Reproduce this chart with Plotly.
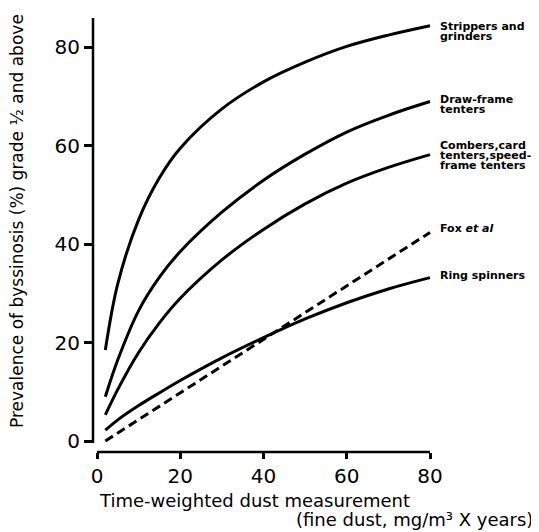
import plotly.graph_objects as go

# ---- data ----
x_pts = [2, 5, 10, 15, 20, 30, 40, 50, 60, 70, 80]
strippers = [18.5, 32, 45, 53.5, 59.5, 67.5, 73, 77, 80.2, 82.5, 84.4]
draw_frame = [9, 16.5, 26.5, 33.3, 38.5, 46.5, 53, 58.3, 62.8, 66.2, 69]
combers = [5.3, 10.5, 18, 24, 29, 36.8, 43, 48.2, 52.4, 55.6, 58.2]
ring = [2.2, 4.3, 7.2, 9.8, 12.3, 16.9, 21, 24.8, 28.1, 30.9, 33.2]
fox_x = [2, 80]
fox_y = [0, 42.4]

x_ticks = [0, 20, 40, 60, 80]
y_ticks = [0, 20, 40, 60, 80]

labels = [
    ("Strippers and", 26), ("grinders", 37),
    ("Draw-frame", 99), ("tenters", 110),
    ("Combers,card", 145), ("tenters,speed-", 155), ("frame tenters", 166),
    ("Fox <i>et al</i>", 228),
    ("Ring spinners", 275),
]

OFF = 8  # page body margin
W, H = 539 - OFF, 532 - OFF
# plot area in page pixels: left 93, right 433, top 18, bottom 452
L, T = 93 - OFF, 18 - OFF
R = (OFF + W) - 433
B = (OFF + H) - 452
pw, ph = W - L - R, H - T - B


def px(p):
    return (p - 93) / pw


def py(p):
    return (452 - p) / ph


fig = go.Figure()
for ys in (strippers, draw_frame, combers, ring):
    fig.add_trace(go.Scatter(x=x_pts, y=ys, mode="lines",
                             line=dict(color="black", width=3, shape="spline", smoothing=1.0),
                             showlegend=False, hoverinfo="skip"))
fig.add_trace(go.Scatter(x=fox_x, y=fox_y, mode="lines",
                         line=dict(color="black", width=3, dash="9px,5px"),
                         showlegend=False, hoverinfo="skip"))

ann = []
for txt, yy in labels:
    ann.append(dict(text=txt, xref="paper", yref="paper", x=px(438), y=py(yy),
                    xanchor="left", yanchor="middle", showarrow=False,
                    font=dict(family="DejaVu Sans", size=11, color="black", weight="bold")))
ann.append(dict(text="Prevalence of byssinosis (%) grade ½ and above", textangle=-90,
                xref="paper", yref="paper", x=px(17), y=py(221),
                xanchor="center", yanchor="middle", showarrow=False,
                font=dict(family="DejaVu Sans", size=17, color="black")))
ann.append(dict(text="Time-weighted dust measurement", xref="paper", yref="paper",
                x=px(97), y=py(501), xanchor="left", yanchor="middle",
                showarrow=False, font=dict(family="DejaVu Sans", size=18, color="black")))
ann.append(dict(text="(fine dust, mg/m³ X years)", xref="paper", yref="paper",
                x=px(535), y=py(519), xanchor="right", yanchor="middle",
                showarrow=False, font=dict(family="DejaVu Sans", size=18, color="black")))

kx = 4.1625
x0 = -(97 - 93) / kx
x1 = x0 + pw / kx
ky = 4.92
y0 = -(452 - 441) / ky
y1 = y0 + ph / ky

shapes = [
    dict(type="line", xref="paper", yref="y", x0=0, x1=0, y0=-0.4, y1=y1,
         line=dict(color="black", width=2.5)),
    dict(type="line", xref="x", yref="paper", x0=0, x1=80, y0=0, y1=0,
         line=dict(color="black", width=2.5)),
]

fig.update_layout(
    width=W, height=H, margin=dict(l=L, r=R, t=T, b=B),
    paper_bgcolor="white", plot_bgcolor="white",
    annotations=ann, shapes=shapes,
    xaxis=dict(range=[x0, x1], tickvals=x_ticks, ticktext=[str(v) for v in x_ticks],
               showgrid=False, zeroline=False, showline=False, ticks="outside",
               ticklen=6, tickwidth=2.5, tickcolor="black",
               tickfont=dict(family="DejaVu Sans", size=20, color="black")),
    yaxis=dict(range=[y0, y1], tickvals=y_ticks, ticktext=[str(v) for v in y_ticks],
               showgrid=False, zeroline=False, showline=False, ticks="outside",
               ticklen=8, tickwidth=2.5, tickcolor="black",
               tickfont=dict(family="DejaVu Sans", size=20, color="black")),
)
fig.write_html("out.html")
